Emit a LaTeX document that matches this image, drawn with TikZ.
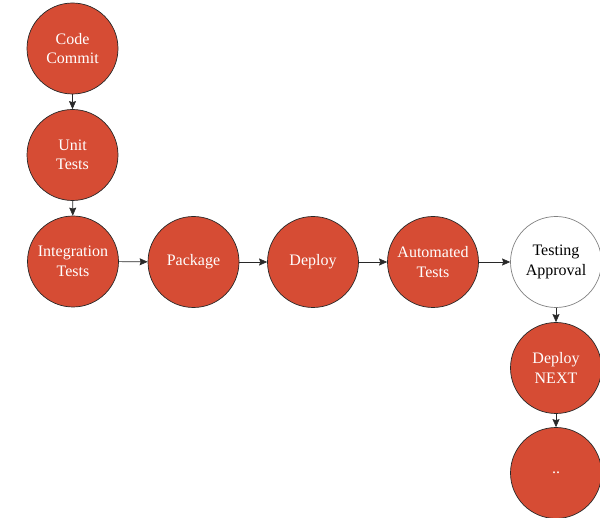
\documentclass[tikz,border=0pt]{standalone}
\usepackage{fontspec}
\setmainfont{Liberation Serif}
\usetikzlibrary{arrows.meta}
\definecolor{stagered}{RGB}{214,76,52}
\definecolor{edgegray}{RGB}{40,40,40}
\begin{document}
\begin{tikzpicture}[x=1pt,y=-1pt,
  stage/.style={circle,draw=edgegray,line width=0.7pt,fill=stagered,minimum size=91pt,inner sep=0pt,
    text=white,font=\fontsize{16}{19.5}\selectfont,align=center},
  gate/.style={stage,fill=white,text=black,draw=gray},
  flow/.style={draw=edgegray,line width=0.6pt,-{Stealth[length=8pt,width=7pt,inset=1pt]}}]
\useasboundingbox (0,0) rectangle (600,518);
\node[stage] (cc) at (72.5,48.5) {Code\\Commit};
\node[stage] (ut) at (72.5,155) {Unit\\Tests};
\node[stage] (it) at (73,261.5) {Integration\\Tests};
\node[stage] (pk) at (193.5,262) {Package};
\node[stage] (dp) at (313,262) {Deploy};
\node[stage] (at) at (433,262) {Automated\\Tests};
\node[gate] (ta) at (556,262) {Testing\\Approval};
\node[stage] (dn) at (556,368) {Deploy\\NEXT};
\node[stage] (dd) at (556,473) {..};
\draw[flow] (cc) -- (ut);
\draw[flow] (ut) -- (it);
\draw[flow] (it) -- (pk);
\draw[flow] (pk) -- (dp);
\draw[flow] (dp) -- (at);
\draw[flow] (at) -- (ta);
\draw[flow] (ta) -- (dn);
\draw[flow] (dn) -- (dd);
\end{tikzpicture}
\end{document}
